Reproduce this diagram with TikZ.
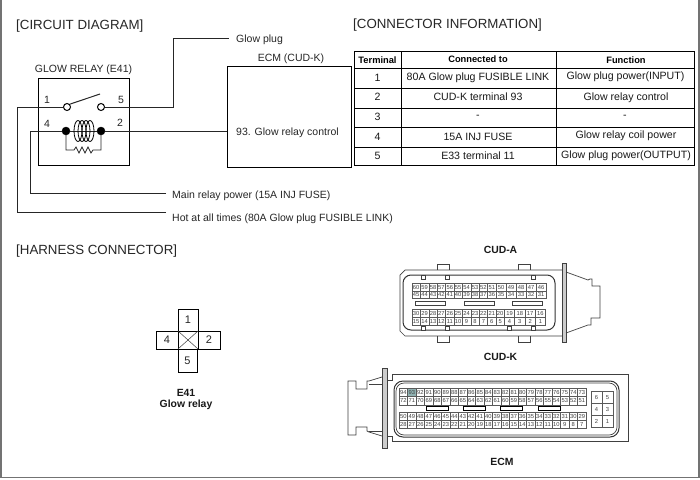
\documentclass[tikz,border=0pt]{standalone}
\usepackage{fontspec}
\setmainfont{Liberation Sans}
\newcommand{\fsz}[1]{\fontsize{#1}{#1}\selectfont}
% \cellrow{x}{ytop}{height}{first number}{count}{width}
\newcommand{\cellrow}[6]{%
  \foreach \i in {1,...,#5}{%
    \pgfmathtruncatemacro{\nn}{#4-\i+1}%
    \pgfmathsetmacro{\xx}{#1+(\i-1)*#6}%
    \node[pincell,minimum width=#6pt,minimum height=#3pt] (c\nn-#2) at ({\xx+#6/2},{#2+#3/2}) {\nn};%
  }%
}
\tikzset{
  x=1pt,y=-1pt,
  wire/.style={draw=black!85,line width=1pt},
  thick box/.style={draw=black,line width=1pt},
  label text/.style={inner sep=0pt,yshift=-1pt,font=\fsz{10.5},text=black!85},
  heading/.style={inner sep=0pt,yshift=-2pt,anchor=west,font=\fsz{13.3},text=black!85},
  table text/.style={inner sep=0pt,font=\fsz{10.6},text=black!90},
  table head/.style={inner sep=0pt,font=\fsz{9.3}\bfseries,text=black},
  pincell/.style={draw=black!65,line width=0.5pt,inner sep=0pt,text height=4.2pt,text depth=0pt,font=\fsz{5.8},text=black!75},
  part/.style={draw=black!75,line width=0.7pt},
  strong part/.style={draw=black!80,line width=1pt},
  bold caption/.style={inner sep=0pt,font=\fsz{10.4}\bfseries,text=black!90},
  open term/.style={circle,draw=black,line width=1pt,fill=white,minimum size=7pt,inner sep=0pt},
  dot term/.style={circle,draw=black,fill=black,minimum size=8pt,inner sep=0pt},
  pin/.style={thick box,inner sep=0pt,font=\fsz{11},text=black!85},
}
\begin{document}
\begin{tikzpicture}
\useasboundingbox (0,0) rectangle (700,479);
\fill[white] (0,0) rectangle (700,479);
% page frame
\draw[draw=black!55,line width=1.6pt] (1,0) -- (1,477.5) -- (699,477.5) -- (699,0);

% headings
\node[heading] (h1) at (16,24) {[CIRCUIT DIAGRAM]};
\node[heading] (h2) at (353,23.5) {[CONNECTOR INFORMATION]};
\node[heading] (h3) at (16,249.5) {[HARNESS CONNECTOR]};

% ---- circuit diagram
\node[label text] (relaytitle) at (83.5,68.5) {GLOW RELAY (E41)};
\node[thick box,minimum width=91pt,minimum height=87pt,inner sep=0pt] (relay) at (84,121.5) {};
\node[label text] (ecmtitle) at (291,58) {ECM (CUD-K)};
\node[thick box,minimum width=124pt,minimum height=101pt,inner sep=0pt] (ecm) at (289,117) {};
\node[label text,anchor=west] (ctrl) at (236,131.5) {93. Glow relay control};
\node[label text,anchor=west] (gplug) at (236,38.5) {Glow plug};
\node[label text,anchor=west] (mainrel) at (172,194.5) {Main relay power (15A INJ FUSE)};
\node[label text,anchor=west] (hot) at (172,217.5) {Hot at all times (80A Glow plug FUSIBLE LINK)};
\coordinate (gplugend) at (229,38.5);
\coordinate (mainend) at (166,193);
\coordinate (hotend) at (166,212);
\coordinate (ecmin) at (ecm.west |- 131,131);

\node[label text] (p1) at (47,99) {1};
\node[label text] (p5) at (121,99) {5};
\node[label text] (p4) at (47,123) {4};
\node[label text] (p2) at (120,122) {2};

\node[open term] (t1) at (67,107) {};
\node[open term] (t5) at (101,107) {};
\node[dot term] (d4) at (66,131) {};
\node[dot term] (d2) at (101,131) {};

\draw[wire] (hotend) -| (17,107) -- (t1.west);
\draw[wire] (mainend) -| (30,131) -- (d4.west);
\draw[wire] (t5.east) -- (173,107) |- (gplugend);
\draw[wire] (d2.east) -- (ecmin);
\draw[wire] (t1.north east) -- (100,94);
\draw[wire] (d4.east) -- (d2.west);
\foreach \cx in {78,82,86,90}
  \draw[draw=black,line width=0.8pt] (\cx,131) ellipse [x radius=4,y radius=10.5];
\draw[wire,line width=0.8pt] (d4.south) |- (74,150) -- (76,147) -- (79,153) -- (82,147) -- (85,153) -- (88,147) -- (91,153) -- (93,150) -| (d2.south);

% ---- connector table
\draw[thick box] (354,51) rectangle (694,165);
\foreach \yy in {68,88,108,127,147}
  \draw[thick box] (354,\yy) -- (694,\yy);
\foreach \xc in {401,556}
  \draw[thick box] (\xc,51) -- (\xc,165);
\node[table head] (th1) at (377.5,60) {Terminal};
\node[table head] (th2) at (478,59.5) {Connected to};
\node[table head] (th3) at (626,60) {Function};
\node[table text] (r1a) at (377.5,78) {1};
\node[table text] (r1b) at (478,78) {80A Glow plug FUSIBLE LINK};
\node[table text] (r1c) at (625.5,77) {Glow plug power(INPUT)};
\node[table text] (r2a) at (377.5,97) {2};
\node[table text] (r2b) at (478,97) {CUD-K terminal 93};
\node[table text] (r2c) at (626,97.5) {Glow relay control};
\node[table text] (r3a) at (377.5,117) {3};
\node[table text] (r3b) at (478,117) {-};
\node[table text] (r3c) at (625,117) {-};
\node[table text] (r4a) at (377.5,137) {4};
\node[table text] (r4b) at (478,137) {15A INJ FUSE};
\node[table text] (r4c) at (626,136) {Glow relay coil power};
\node[table text] (r5a) at (377.5,156) {5};
\node[table text] (r5b) at (478,156) {E33 terminal 11};
\node[table text] (r5c) at (626,156) {Glow plug power(OUTPUT)};

% ---- E41 connector
\node[pin,minimum width=20pt,minimum height=22pt] (e1) at (188,320) {1};
\node[pin,minimum width=22pt,minimum height=18pt] (e4) at (167,340) {4};
\node[pin,minimum width=22pt,minimum height=18pt] (e2) at (209,340) {2};
\node[pin,minimum width=19pt,minimum height=23pt] (e5) at (187.5,360.5) {5};
\draw[draw=black!75,line width=0.5pt] (178,331) -- (198,349) (198,331) -- (178,349);
\node[bold caption] (e41a) at (186,393) {E41};
\node[bold caption] (e41b) at (186,405) {Glow relay};

% ---- CUD-A connector
\node[bold caption] (cuda) at (500.5,249.5) {CUD-A};
\draw[part] (437,270) -- (437,264) -- (449,264) -- (449,270);
\draw[part] (518,270) -- (518,264) -- (530,264) -- (530,270);
\draw[part] (437,336) -- (437,342) -- (449,342) -- (449,336);
\draw[part] (518,336) -- (518,342) -- (530,342) -- (530,336);
\draw[part] (562,270) -- (405,270) -- (400,275) -- (400,331) -- (405,336) -- (562,336);
\draw[strong part,rounded corners=8pt] (403,275) rectangle (555,330);
\draw[part,fill=black!20] (562,263) rectangle (566,342);
\draw[part] (566,272) -- (588,280) -- (590,279) -- (592,279) -- (592,286) -- (600,286) -- (600,318) -- (591,318) -- (591,325) -- (588,325) -- (566,333);
\foreach \sx in {423,447,533}
  \draw[part,fill=white] (\sx-2,275) rectangle (\sx+2,279);
\foreach \sx in {423,447,509,533}
  \draw[part,fill=white] (\sx-2,326) rectangle (\sx+2,330);
\cellrow{412}{283}{8}{60}{10}{8.4}
\cellrow{496}{283}{8}{50}{5}{10}
\cellrow{412}{291}{7.5}{45}{10}{8.4}
\cellrow{496}{291}{7.5}{35}{5}{10}
\cellrow{412}{309}{8}{30}{11}{8.4}
\cellrow{504.4}{309}{8}{19}{4}{10.3}
\cellrow{412}{317}{8}{15}{11}{8.4}
\cellrow{504.4}{317}{8}{4}{4}{10.3}
\foreach \sx in {415,464,512}
  \draw[part] (\sx,301) rectangle (\sx+30,305);

% ---- CUD-K connector
\node[bold caption] (cudk) at (500.5,357) {CUD-K};
\draw[part] (387,380) -- (392,380) -- (392,374.5) -- (628,374.5) -- (628,441) -- (392,441) -- (392,436) -- (387,436);
\draw[strong part,rounded corners=9pt] (394,381) rectangle (619,437);
\draw[part,rounded corners=8pt] (396,383) rectangle (617,435);
\draw[part,fill=black!20] (382,368) rectangle (387,448);
\draw[part] (382,377) -- (369,381) -- (367,381) -- (367,389) -- (356,389) -- (356,381) -- (348,381) -- (348,435) -- (356,435) -- (356,427) -- (367,427) -- (367,431) -- (369,432) -- (382,436);
\draw[part] (369,384) -- (382,384) (369,431) -- (382,431);
\fill[teal!45!gray!60] (407.5,388) rectangle (416,396.5);
\cellrow{399}{388}{8.5}{94}{22}{8.5}
\cellrow{399}{396.5}{8.5}{72}{22}{8.5}
\cellrow{399}{412}{8}{50}{22}{8.5}
\cellrow{399}{420}{8}{28}{22}{8.5}
\foreach \sx in {426,463,500,538}
  \draw[draw=black,line width=1pt] (\sx,406) rectangle (\sx+22,410);
\foreach \ya/\la/\lb in {391/6/5,403/4/3,415/2/1}{
  \node[pincell,minimum width=11pt,minimum height=12pt] (s\la) at (596.5,\ya+6) {\la};
  \node[pincell,minimum width=11pt,minimum height=12pt] (s\lb) at (607.5,\ya+6) {\lb};
}
\node[bold caption] (ecmcap) at (502,462) {ECM};
\end{tikzpicture}
\end{document}
